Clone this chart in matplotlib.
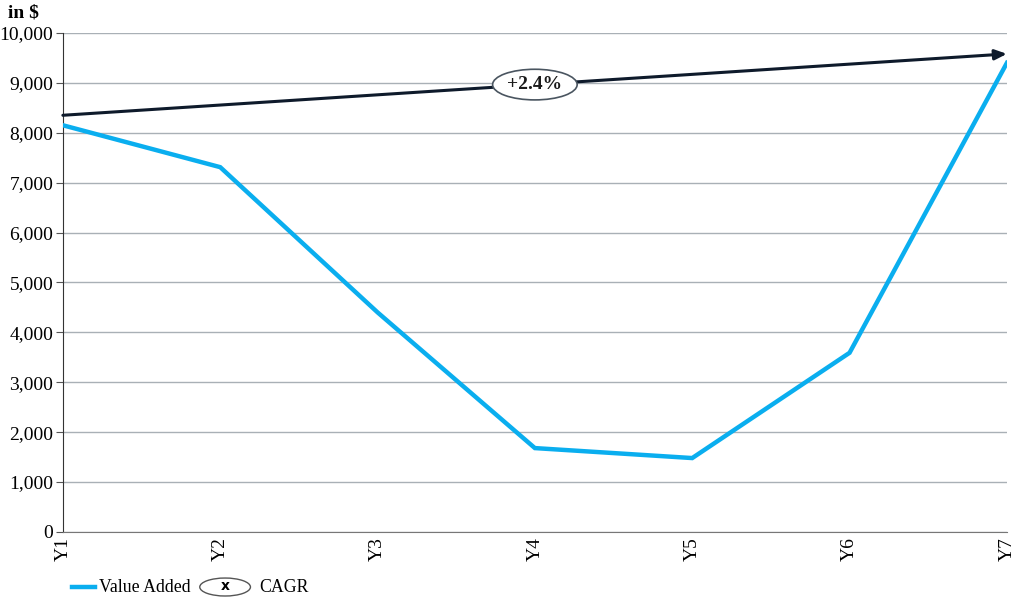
import numpy as np
import matplotlib.pyplot as plt
from matplotlib.patches import Ellipse
from matplotlib.lines import Line2D

plt.rcParams['font.family'] = ['Liberation Serif', 'DejaVu Serif']

years = ["Y1", "Y2", "Y3", "Y4", "Y5", "Y6", "Y7"]
value_added = [8150, 7310, 4400, 1680, 1480, 3590, 9400]
cagr_start = 8350
cagr_end = 9580
cagr_label = "+2.4%"

fig = plt.figure(figsize=(10.14, 5.99), dpi=100)
ax = fig.add_axes([0.062, 0.112, 0.931, 0.833])

x = np.arange(len(years))
ax.plot(x, value_added, color="#0AAEEF", lw=3.2, solid_joinstyle="miter", zorder=3)

# CAGR arrow
ax.annotate("", xy=(x[-1], cagr_end), xytext=(x[0], cagr_start),
            arrowprops=dict(arrowstyle="-|>,head_length=0.7,head_width=0.3",
                            color="#0E1A2B", lw=2.2, shrinkA=0, shrinkB=0), zorder=4)
xm = 3.0
ym = cagr_start + (cagr_end - cagr_start) * xm / (len(years) - 1)
ax.text(xm, ym, cagr_label, ha="center", va="center", fontsize=14, fontweight="bold",
        color="#1a1a1a", zorder=5,
        bbox=dict(boxstyle="ellipse,pad=0.12", fc="white", ec="#4a5560", lw=1.2))

ax.set_xlim(0, len(years) - 1)
ax.set_ylim(0, 10000)
ax.set_xticks(x)
ax.set_xticklabels(years, rotation=90, fontsize=14)
ax.set_yticks(np.arange(0, 10001, 1000))
ax.set_yticklabels([f"{v:,}" for v in range(0, 10001, 1000)], fontsize=14)
ax.tick_params(axis="x", length=0, pad=4)
ax.tick_params(axis="y", length=5, color="#555555", pad=2)
ax.grid(axis="y", color="#a9b0b6", lw=1.0)
ax.set_axisbelow(True)
for s in ["top", "right"]:
    ax.spines[s].set_visible(False)
ax.spines["left"].set_color("#333333")
ax.spines["bottom"].set_color("#777777")

fig.text(0.008, 0.978, "in $", fontsize=14, fontweight="bold", ha="left", va="center")

# legend
fig.add_artist(Line2D([0.071, 0.094], [0.02, 0.02], color="#0AAEEF", lw=3.2))
fig.text(0.098, 0.02, "Value Added", fontsize=12.8, va="center", ha="left")
fig.add_artist(Ellipse((0.222, 0.02), 0.050, 0.03, fc="white", ec="#555555", lw=1.0))
fig.text(0.222, 0.022, "x", fontsize=10, fontweight="bold", family="DejaVu Sans",
         va="center", ha="center")
fig.text(0.256, 0.02, "CAGR", fontsize=12.8, va="center", ha="left")

fig.savefig("out.png", dpi=100)
